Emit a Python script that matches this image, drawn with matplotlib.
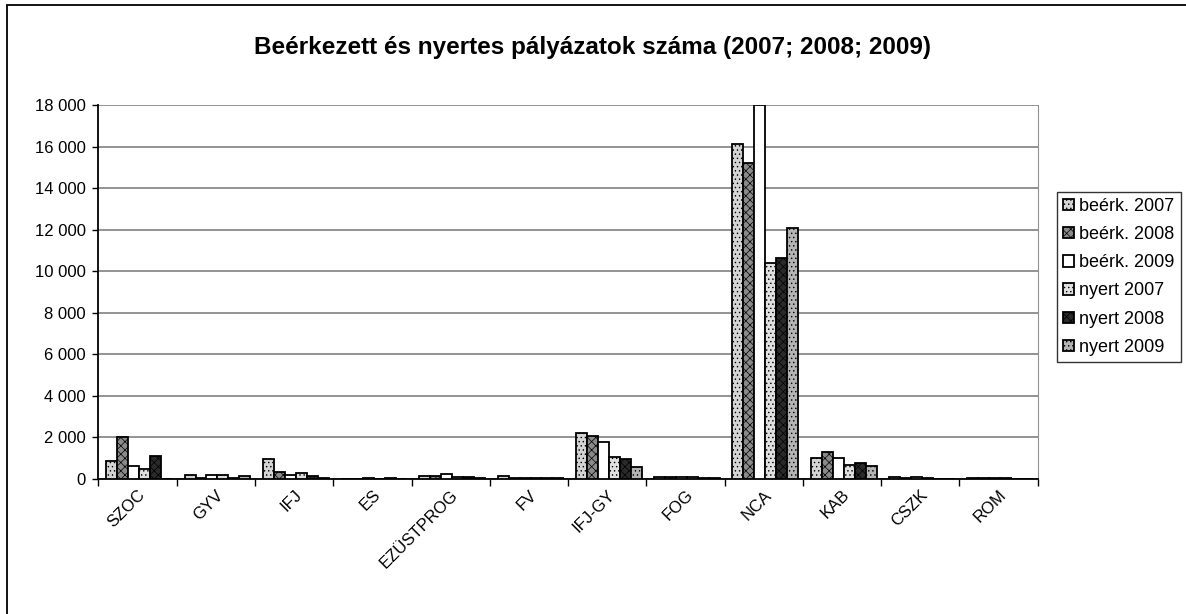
import matplotlib
matplotlib.use("Agg")
import matplotlib.pyplot as plt
import numpy as np
from matplotlib.patches import Rectangle
from matplotlib.ticker import FuncFormatter, MultipleLocator

plt.rcParams["font.family"] = ["Liberation Sans", "DejaVu Sans"]
plt.rcParams["hatch.linewidth"] = 0.5

# ── Data ──────────────────────────────────────────────────────────────────────
categories = ["SZOC", "GYV", "IFJ", "ES", "EZÜSTPROG", "FV",
              "IFJ-GY", "FOG", "NCA", "KAB", "CSZK", "ROM"]

beerk_2007 = [880, 200, 950, 20, 150, 120, 2230, 80, 16100, 1000, 80, 40]
beerk_2008 = [2000, 50, 330, 10, 150, 60, 2080, 80, 15200, 1310, 30, 40]
beerk_2009 = [640, 200, 200, 40, 250, 60, 1800, 80, 18000, 1020, 100, 30]
nyert_2007 = [480, 200, 300, 10, 80, 60, 1070, 80, 10400, 680, 40, 60]
nyert_2008 = [1100, 30, 120, 40, 80, 60, 950, 60, 10640, 750, 20, 20]
nyert_2009 = [0, 120, 50, 10, 60, 30, 590, 40, 12080, 600, 10, 10]

series = [
    ("beérk. 2007", beerk_2007),
    ("beérk. 2008", beerk_2008),
    ("beérk. 2009", beerk_2009),
    ("nyert 2007", nyert_2007),
    ("nyert 2008", nyert_2008),
    ("nyert 2009", nyert_2009),
]

# grayscale fills to mimic the scanned print
fills   = ["#d4d4d4", "#8a8a8a", "#ffffff", "#e0e0e0", "#2a2a2a", "#b4b4b4"]
hatches = ["....", "xxxx", "", "....", "xxxx", "...."]

# ── Plot ──────────────────────────────────────────────────────────────────────
fig = plt.figure(figsize=(11.86, 6.14), dpi=100)
ax = fig.add_axes([0.083, 0.22, 0.792, 0.609])

x = np.arange(len(categories))
w = 0.14
for i, (name, vals) in enumerate(series):
    ax.bar(x + (i - 2.5) * w + 0.02, vals, width=w, color=fills[i],
           edgecolor="black", linewidth=1.3, hatch=hatches[i],
           label=name, zorder=3)

ax.set_xlim(-0.5, len(categories) - 0.5)
ax.set_ylim(0, 18000)
ax.yaxis.set_major_locator(MultipleLocator(2000))
ax.yaxis.set_major_formatter(FuncFormatter(lambda v, p: f"{int(v):,}".replace(",", " ")))
ax.grid(axis="y", color="#808080", lw=1.2, zorder=0)

ax.set_xticks(x)
ax.set_xticklabels(categories, rotation=45, ha="right", rotation_mode="anchor",
                   fontsize=12)
ax.set_xticks(np.arange(-0.5, len(categories)), minor=True)
ax.tick_params(axis="x", which="major", length=0, pad=6)
ax.tick_params(axis="x", which="minor", length=5, width=1, direction="out")
ax.tick_params(axis="y", labelsize=12, length=4, width=1, direction="out", pad=5)

for s in ["left", "bottom"]:
    ax.spines[s].set_color("black")
    ax.spines[s].set_linewidth(1.3)
ax.spines["top"].set_visible(False)
ax.spines["right"].set_color("#909090")
ax.spines["right"].set_linestyle((0, (1, 1)))

fig.text(0.5, 0.922, "Beérkezett és nyertes pályázatok száma (2007; 2008; 2009)",
         ha="center", va="center", fontsize=17.5, fontweight="bold")

leg = ax.legend(loc="upper left", bbox_to_anchor=(0.891, 0.688),
                bbox_transform=fig.transFigure, fontsize=13, frameon=True,
                fancybox=False, edgecolor="black", handlelength=0.6,
                handleheight=0.6, handletextpad=0.3, labelspacing=0.62,
                borderpad=0.35, borderaxespad=0)
leg.get_frame().set_linewidth(1.0)

# outer chart frame
fig.patches.append(Rectangle((0.006, -0.01), 1.2, 1.002, transform=fig.transFigure,
                             fill=False, edgecolor="black", lw=1.3))

fig.savefig("out.png", dpi=100)
